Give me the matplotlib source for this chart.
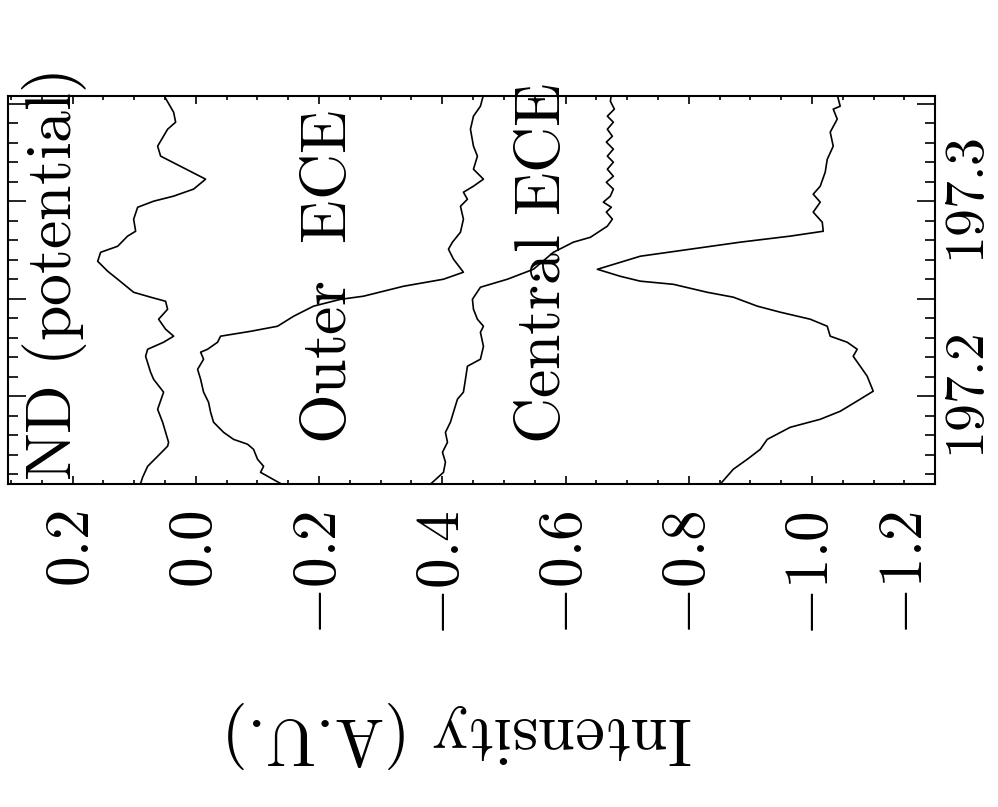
import matplotlib
matplotlib.use('Agg')
import matplotlib.pyplot as plt
from matplotlib.ticker import MultipleLocator

plt.rcParams['mathtext.fontset'] = 'cm'

# Time (s) and intensity (A.U.), one pair of lists per trace
nd_t = [197.1550, 197.1585, 197.1641, 197.1692, 197.1744, 197.1764, 197.1867, 197.1933,
        197.2021, 197.2087, 197.2123, 197.2205, 197.2241, 197.2277, 197.2308, 197.2344,
        197.2395, 197.2446, 197.2487, 197.2508, 197.2533, 197.2600, 197.2641, 197.2692,
        197.2738, 197.2769, 197.2821, 197.2846, 197.2908, 197.2969, 197.3000, 197.3026,
        197.3062, 197.3113, 197.3231, 197.3282, 197.3369, 197.3405, 197.3456, 197.3545]
nd_i = [0.0900, 0.0864, 0.0783, 0.0621, 0.0459, 0.0443, 0.0540, 0.0621,
        0.0524, 0.0686, 0.0735, 0.0816, 0.0783, 0.0524, 0.0361, 0.0492,
        0.0605, 0.0459, 0.0492, 0.0735, 0.1010, 0.1270, 0.1432, 0.1594,
        0.1546, 0.1270, 0.1108, 0.0978, 0.1010, 0.0945, 0.0686, 0.0361,
        0.0037, -0.0158, 0.0572, 0.0621, 0.0459, 0.0329, 0.0361, 0.0524]

outer_t = [197.1550, 197.1610, 197.1641, 197.1677, 197.1728, 197.1754, 197.1779, 197.1815,
           197.1867, 197.1918, 197.1969, 197.2021, 197.2087, 197.2138, 197.2190, 197.2226,
           197.2241, 197.2277, 197.2308, 197.2333, 197.2359, 197.2410, 197.2462, 197.2497,
           197.2513, 197.2564, 197.2600, 197.2636, 197.2703, 197.2754, 197.2790, 197.2841,
           197.2908, 197.2974, 197.3010, 197.3046, 197.3077, 197.3113, 197.3164, 197.3231,
           197.3282, 197.3369, 197.3436, 197.3487, 197.3545]
outer_i = [-0.1390, -0.1050, -0.1099, -0.1001, -0.0936, -0.0839, -0.0612, -0.0450,
           -0.0287, -0.0239, -0.0206, -0.0125, -0.0077, -0.0028, -0.0125, -0.0077,
           -0.0190, -0.0352, -0.0401, -0.0888, -0.1326, -0.1585, -0.1910, -0.2348,
           -0.2721, -0.3370, -0.4019, -0.4343, -0.4181, -0.4100, -0.4165, -0.4295,
           -0.4343, -0.4295, -0.4408, -0.4343, -0.4506, -0.4668, -0.4506, -0.4570,
           -0.4506, -0.4457, -0.4506, -0.4619, -0.4668]

central_t = [197.1550, 197.1610, 197.1662, 197.1713, 197.1764, 197.1815, 197.1867, 197.1918,
             197.1985, 197.2021, 197.2087, 197.2154, 197.2190, 197.2256, 197.2328, 197.2359,
             197.2395, 197.2446, 197.2497, 197.2559, 197.2600, 197.2651, 197.2738, 197.2790,
             197.2815, 197.2872, 197.2908, 197.2944, 197.2969, 197.2995, 197.3026, 197.3062,
             197.3097, 197.3128, 197.3164, 197.3200, 197.3231, 197.3267, 197.3303, 197.3333,
             197.3369, 197.3405, 197.3436, 197.3472, 197.3513, 197.3545]
central_i = [-0.3810, -0.4019, -0.4051, -0.4003, -0.4084, -0.4051, -0.4132, -0.4181,
             -0.4246, -0.4343, -0.4376, -0.4408, -0.4619, -0.4668, -0.4619, -0.4668,
             -0.4570, -0.4506, -0.4489, -0.4619, -0.5057, -0.5479, -0.5803, -0.6128,
             -0.6404, -0.6679, -0.6761, -0.6663, -0.6744, -0.6614, -0.6728, -0.6777,
             -0.6663, -0.6777, -0.6679, -0.6777, -0.6679, -0.6777, -0.6663, -0.6761,
             -0.6679, -0.6777, -0.6679, -0.6793, -0.6728, -0.6745]

core_t = [197.1550, 197.1626, 197.1677, 197.1728, 197.1779, 197.1841, 197.1882, 197.1923,
          197.1985, 197.2026, 197.2103, 197.2154, 197.2205, 197.2241, 197.2277, 197.2308,
          197.2359, 197.2395, 197.2431, 197.2462, 197.2508, 197.2533, 197.2574, 197.2590,
          197.2615, 197.2651, 197.2718, 197.2754, 197.2790, 197.2821, 197.2846, 197.2892,
          197.2944, 197.2995, 197.3036, 197.3077, 197.3149, 197.3215, 197.3282, 197.3354,
          197.3421, 197.3472, 197.3487, 197.3545]
core_i = [-0.8513, -0.8724, -0.8951, -0.9162, -0.9275, -0.9648, -1.0135, -1.0459,
          -1.0784, -1.0995, -1.0897, -1.0784, -1.0670, -1.0735, -1.0573, -1.0297,
          -1.0249, -0.9973, -0.9486, -0.9113, -0.8724, -0.8302, -0.7750, -0.7215,
          -0.6890, -0.6517, -0.7215, -0.8026, -0.8837, -0.9648, -1.0184, -1.0168,
          -1.0021, -1.0135, -1.0021, -1.0135, -1.0216, -1.0249, -1.0346, -1.0297,
          -1.0411, -1.0346, -1.0459, -1.0411]

intensity_ticks = [0.2, 0.0, -0.2, -0.4, -0.6, -0.8, -1.0, -1.2]
intensity_labels = ['$0.2$', '$0.0$', '$-0.2$', '$-0.4$', '$-0.6$', '$-0.8$', '$-1.0$', '$-1.2$']
time_ticks = [197.20, 197.25, 197.30, 197.35]
time_labels = ['$197.2$', '', '$197.3$', '']

# the whole figure is turned a quarter turn: intensity runs across, time runs up
fig = plt.figure(figsize=(9.98, 8.07), dpi=100)
ax = fig.add_axes([0.008, 0.4002, 0.929, 0.481])

for t, i in [(nd_t, nd_i), (outer_t, outer_i), (central_t, central_i), (core_t, core_i)]:
    ax.plot(i, t, color='black', lw=1.2)

ax.set_xlim(0.305, -1.2)
ax.set_ylim(197.155, 197.354)

ax.set_xticks(intensity_ticks)
ax.set_xticklabels(intensity_labels)
ax.xaxis.set_minor_locator(MultipleLocator(0.05))
ax.set_yticks(time_ticks)
ax.set_yticklabels(time_labels)
ax.yaxis.set_minor_locator(MultipleLocator(0.01))

ax.tick_params(axis='x', which='both', direction='in', top=True, bottom=True,
               labelsize=44, labelrotation=90, pad=19, width=1.2)
ax.tick_params(axis='x', which='major', length=5.5)
ax.tick_params(axis='x', which='minor', length=3)
ax.tick_params(axis='y', which='both', direction='in', left=True, right=True,
               labelleft=False, labelright=True, labelsize=40, labelrotation=90,
               pad=5, width=1.2)
ax.tick_params(axis='y', which='major', length=13)
ax.tick_params(axis='y', which='minor', length=7)
for lab in ax.get_yticklabels():
    lab.set_va('center')
ax.get_xticklabels()[-1].set_ha('right')

for s in ax.spines.values():
    s.set_linewidth(1.5)

ax.set_xlabel('Intensity (A.U.)', fontfamily='cmr10', fontsize=48, rotation=180)
ax.xaxis.set_label_coords(0.484, -0.56)

txt = dict(rotation=90, rotation_mode='anchor', ha='left', va='baseline',
           fontsize=46, clip_on=False)
ax.text(0.2032, 197.1564, r'$\mathrm{ND\ (potential)}$', **txt)
ax.text(-0.2429, 197.1754, r'$\mathrm{Outer\ \ ECE}$', **txt)
ax.text(-0.5917, 197.1754, r'$\mathrm{Central\ ECE}$', **txt)

fig.savefig('out.png', dpi=100)
